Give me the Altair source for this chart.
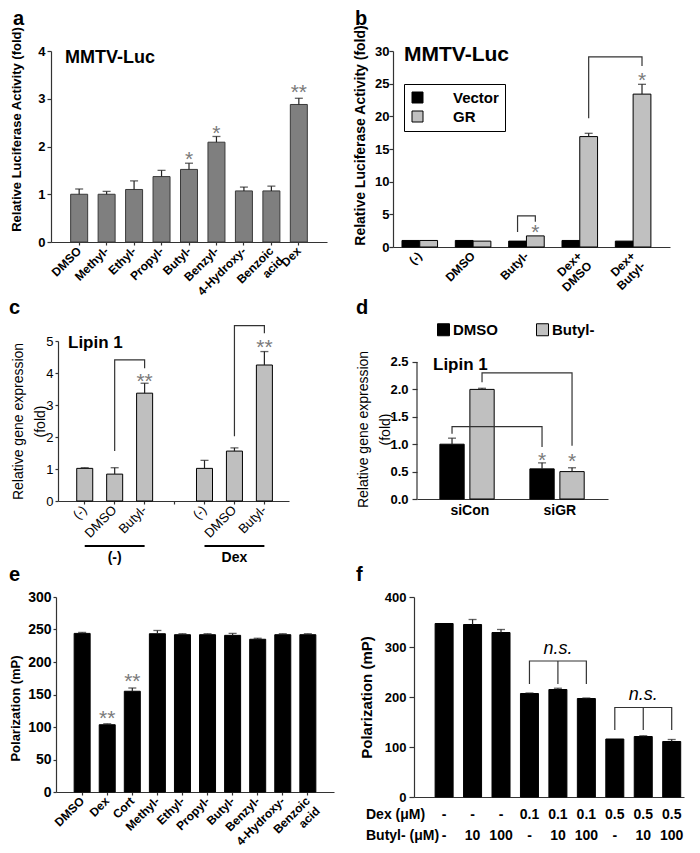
import altair as alt
import pandas as pd

FONT = "Liberation Sans"
INK = "#222222"

# ---------------- data ----------------
a_cats = ["DMSO", "Methyl-", "Ethyl-", "Propyl-", "Butyl-", "Benzyl-", "4-Hydroxy-", "Benzoic|acid", "Dex"]
a_vals = [1.00, 1.00, 1.10, 1.37, 1.52, 2.09, 1.07, 1.07, 2.88]
a_errs = [0.11, 0.06, 0.18, 0.13, 0.13, 0.12, 0.08, 0.10, 0.13]
a_star_cats = ["Butyl-", "Benzyl-", "Dex"]
a_star_text = ["*", "*", "**"]
a_star_y = [1.82, 2.37, 3.22]

b_groups = ["(-)", "DMSO", "Butyl-", "Dex+|DMSO", "Dex+|Butyl-"]
b_series = ["Vector", "GR"]
b_vector = [1.0, 1.0, 0.9, 1.0, 0.9]
b_vector_err = [0, 0, 0, 0, 0]
b_gr = [1.0, 0.9, 1.7, 16.9, 23.4]
b_gr_err = [0, 0, 0, 0.5, 1.5]
b_br_id = [1, 1, 1, 1, 2, 2, 2, 2]
b_br_group = ["Butyl-", "Butyl-", "Butyl-", "Butyl-", "Dex+|DMSO", "Dex+|DMSO", "Dex+|Butyl-", "Dex+|Butyl-"]
b_br_series = ["Vector", "Vector", "GR", "GR", "GR", "GR", "GR", "GR"]
b_br_y = [2.3, 4.77, 4.77, 3.85, 19.7, 29.1, 29.1, 27.7]
b_star_group = ["Butyl-", "Dex+|Butyl-"]
b_star_y = [2.9, 26.2]

c_ids = ["c1", "c2", "c3", "c4", "c5", "c6", "c7"]
c_labels = ["(-)", "DMSO", "Butyl-", "", "(-)", "DMSO", "Butyl-"]
c_bar_ids = ["c1", "c2", "c3", "c5", "c6", "c7"]
c_vals = [1.02, 0.84, 3.37, 1.02, 1.56, 4.25]
c_errs = [0.02, 0.20, 0.31, 0.25, 0.10, 0.42]
c_br_id = [1, 1, 1, 1, 2, 2, 2, 2]
c_br_x = ["c2", "c2", "c3", "c3", "c6", "c6", "c7", "c7"]
c_br_y = [1.56, 4.41, 4.41, 4.15, 2.02, 5.48, 5.48, 5.24]
c_star_x = ["c3", "c7"]
c_star_y = [3.89, 4.93]
c_group_from = ["c1", "c5"]
c_group_to = ["c3", "c7"]
c_group_mid = ["c2", "c6"]
c_group_text = ["(-)", "Dex"]

d_groups = ["siCon", "siGR"]
d_series = ["DMSO", "Butyl-"]
d_dmso = [1.00, 0.55]
d_dmso_err = [0.11, 0.11]
d_butyl = [2.00, 0.50]
d_butyl_err = [0.02, 0.07]
d_br_id = [1, 1, 1, 1, 2, 2, 2, 2]
d_br_group = ["siCon", "siCon", "siGR", "siGR", "siCon", "siCon", "siGR", "siGR"]
d_br_series = ["DMSO", "DMSO", "DMSO", "DMSO", "Butyl-", "Butyl-", "Butyl-", "Butyl-"]
d_br_y = [1.19, 1.32, 1.32, 0.95, 2.13, 2.30, 2.30, 0.97]
d_star_series = ["DMSO", "Butyl-"]
d_star_y = [0.79, 0.76]

e_cats = ["DMSO", "Dex", "Cort", "Methyl-", "Ethyl-", "Propyl-", "Butyl-", "Benzyl-", "4-Hydroxy-", "Benzoic|acid"]
e_vals = [244, 103.5, 155, 243.5, 242, 242, 241, 235, 242, 242]
e_errs = [1.5, 1.5, 5, 5, 1.5, 1.5, 3, 1.5, 1.5, 1.5]
e_star_cats = ["Dex", "Cort"]
e_star_y = [120, 177]

f_ids = ["f1", "f2", "f3", "f4", "f5", "f6", "f7", "f8", "f9"]
f_vals = [347, 345, 329, 207, 215, 197, 116, 121, 111]
f_errs = [0, 10, 6, 1, 2.5, 1, 0, 1.5, 4]
f_dex = ["-", "-", "-", "0.1", "0.1", "0.1", "0.5", "0.5", "0.5"]
f_butyl = ["-", "10", "100", "-", "10", "100", "-", "10", "100"]
f_br_id = [1, 1, 1, 1, 2, 2, 2, 2]
f_br_x = ["f4", "f4", "f6", "f6", "f7", "f7", "f9", "f9"]
f_br_y = [226, 272, 272, 226, 134, 179, 179, 134]
f_mid_x = ["f5", "f8"]
f_mid_lo = [226, 134]
f_mid_hi = [272, 179]
f_ns_y = [297, 204]


# ---------------- helpers ----------------
def label_text(text, x, y, size, weight="bold", align="left", baseline="top", style="normal"):
    return alt.Chart(pd.DataFrame({"t": [text]})).mark_text(
        align=align, baseline=baseline, fontSize=size, fontWeight=weight,
        fontStyle=style, font=FONT, color="black"
    ).encode(text="t:N", x=alt.value(x), y=alt.value(y))


def stars(df, x, y):
    return alt.Chart(df).mark_text(fontSize=21, color="#7a7a7a", font=FONT,
                                   baseline="middle", dy=5).encode(x=x, y=y, text="st:N")


def xlabels(df, x, field, h, size=12, weight="bold"):
    return alt.Chart(df).mark_text(angle=315, align="right", baseline="middle", lineBreak="|",
                                   fontSize=size, fontWeight=weight, font=FONT,
                                   color="black").encode(x=x, y=alt.value(h + 7), text=field + ":N")


def yaxis(title, tx, ty, size, weight="bold", values=None, fmt=None, lsize=13,
          lweight="bold", tick=4, pad=2, domain=True, lh=None):
    kw = dict(title=title, titleX=tx, titleY=ty, titleAngle=270, titleAlign="center",
              titleBaseline="top", titleFontSize=size, titleFontWeight=weight,
              labelFontSize=lsize, labelFontWeight=lweight, tickSize=tick,
              labelPadding=pad, domain=domain, grid=False)
    if values is not None:
        kw["values"] = values
    if fmt is not None:
        kw["format"] = fmt
    if lh is not None:
        kw["titleLineHeight"] = lh
    return alt.Axis(**kw)


def xaxis_plain(ticks=True):
    return alt.Axis(title=None, labels=False, ticks=ticks, tickSize=3, grid=False)


def make_xy(scale_x, axis_x, scale_y, axis_y):
    def X(field, bp=None):
        if bp is None:
            return alt.X(field, type="nominal", scale=scale_x, axis=axis_x)
        return alt.X(field, type="nominal", scale=scale_x, axis=axis_x, bandPosition=bp)

    def Y(field):
        return alt.Y(field, type="quantitative", scale=scale_y, axis=axis_y)
    return X, Y


# ---------------- panel a ----------------
a_df = pd.DataFrame({"cat": a_cats, "val": a_vals, "err": a_errs})
a_df["top"] = a_df["val"] + a_df["err"]
a_star = pd.DataFrame({"cat": a_star_cats, "st": a_star_text, "sy": a_star_y})
aX, aY = make_xy(alt.Scale(domain=a_cats, paddingInner=0.381, paddingOuter=0.716), xaxis_plain(),
                 alt.Scale(domain=[0, 4]),
                 yaxis("Relative Luciferase Activity (fold)", -41, 78, 13, values=[0, 1, 2, 3, 4],
                       tick=4, pad=2))
a_bar = alt.Chart(a_df).mark_bar(fill="#7f7f7f", stroke="#3a3a3a", strokeWidth=1).encode(
    x=aX("cat"), y=aY("val"))
a_err = alt.Chart(a_df).mark_rule(color=INK, strokeWidth=1.2).encode(x=aX("cat"), y=aY("val"), y2="top:Q")
a_cap = alt.Chart(a_df).mark_tick(color=INK, size=8, thickness=1.3).encode(x=aX("cat"), y=aY("top"))
a_st = stars(a_star, aX("cat"), aY("sy"))
pa = alt.layer(a_bar, a_err, a_cap, a_st, xlabels(a_df, aX("cat"), "cat", 191),
               label_text("MMTV-Luc", 14, 7, 18, baseline="middle"),
               label_text("a", -38, -42, 20)).properties(width=276, height=191)

# ---------------- panel b (one band slot per bar, one empty slot between groups) ----------------
b_code = {"Vector": "V", "GR": "G"}
b_slots = []
for i, g in enumerate(b_groups):
    b_slots += [g + "#V", g + "#G"]
    if i < len(b_groups) - 1:
        b_slots.append("gap%d" % i)
b_rows = []
for i, g in enumerate(b_groups):
    b_rows.append({"slot": g + "#V", "ser": "Vector", "val": b_vector[i], "err": b_vector_err[i]})
    b_rows.append({"slot": g + "#G", "ser": "GR", "val": b_gr[i], "err": b_gr_err[i]})
b_df = pd.DataFrame(b_rows)
b_df["top"] = b_df["val"] + b_df["err"]
b_errdf = b_df[b_df["err"] > 0]
b_lab = pd.DataFrame({"slot": [g + "#G" for g in b_groups], "grp": b_groups})
b_br = pd.DataFrame({"bid": b_br_id,
                     "slot": [g + "#" + b_code[s] for g, s in zip(b_br_group, b_br_series)],
                     "y": b_br_y, "o": list(range(len(b_br_id)))})
b_star = pd.DataFrame({"slot": [g + "#G" for g in b_star_group], "st": ["*", "*"], "sy": b_star_y})
bX, bY = make_xy(alt.Scale(domain=b_slots, paddingInner=0, paddingOuter=0.79, align=0.32),
                 xaxis_plain(ticks=False), alt.Scale(domain=[0, 30]),
                 yaxis("Relative Luciferase Activity (fold)", -40, 84, 14,
                       values=[0, 5, 10, 15, 20, 25, 30], tick=4, pad=0))
b_bar = alt.Chart(b_df).mark_bar(stroke="black", strokeWidth=1).encode(
    x=bX("slot"), y=bY("val"),
    color=alt.Color("ser:N", scale=alt.Scale(domain=b_series, range=["black", "#c0c0c0"]),
                    legend=alt.Legend(title=None, orient="none", legendX=11, legendY=33,
                                      direction="vertical", strokeColor="black", fillColor="white",
                                      padding=6, symbolType="square", symbolSize=121,
                                      symbolStrokeColor="black", symbolStrokeWidth=1,
                                      labelOffset=28, labelFontSize=15, labelFontWeight="bold",
                                      rowPadding=3, labelFont=FONT)))
b_err = alt.Chart(b_errdf).mark_rule(color=INK, strokeWidth=1.2).encode(
    x=bX("slot"), y=bY("val"), y2="top:Q")
b_cap = alt.Chart(b_errdf).mark_tick(color=INK, size=8, thickness=1.3).encode(
    x=bX("slot"), y=bY("top"))
b_brk = alt.Chart(b_br).mark_line(color="#333", strokeWidth=1.2).encode(
    x=bX("slot"), y=bY("y"), detail="bid:N", order="o:Q")
b_st = stars(b_star, bX("slot"), bY("sy"))
pb = alt.layer(b_bar, b_err, b_cap, b_brk, b_st, xlabels(b_lab, bX("slot", bp=0), "grp", 196),
               label_text("MMTV-Luc", 11, 4, 21, baseline="middle"),
               label_text("b", -38, -42, 20)).properties(width=277, height=196)

# ---------------- panel c ----------------
c_df = pd.DataFrame({"cat": c_bar_ids, "val": c_vals, "err": c_errs})
c_df["top"] = c_df["val"] + c_df["err"]
c_lab = pd.DataFrame({"cat": c_ids, "lab": c_labels})
c_lab = c_lab[c_lab["lab"] != ""]
c_br = pd.DataFrame({"bid": c_br_id, "cat": c_br_x, "y": c_br_y, "o": list(range(len(c_br_id)))})
c_star = pd.DataFrame({"cat": c_star_x, "st": ["**", "**"], "sy": c_star_y})
c_grp = pd.DataFrame({"a": c_group_from, "b": c_group_to, "m": c_group_mid, "t": c_group_text})
cX, cY = make_xy(alt.Scale(domain=c_ids, paddingInner=0.465, paddingOuter=0.59, align=0.53),
                 xaxis_plain(), alt.Scale(domain=[0, 5]),
                 yaxis(["Relative gene expression", "(fold)"], -47, 80, 14, weight="normal",
                       values=[0, 1, 2, 3, 4, 5], lsize=13, lweight="normal", tick=3, pad=2, lh=22))
c_bar = alt.Chart(c_df).mark_bar(fill="#bfbfbf", stroke="black", strokeWidth=1).encode(
    x=cX("cat"), y=cY("val"))
c_err = alt.Chart(c_df).mark_rule(color=INK, strokeWidth=1.2).encode(x=cX("cat"), y=cY("val"), y2="top:Q")
c_cap = alt.Chart(c_df).mark_tick(color=INK, size=8, thickness=1.3).encode(x=cX("cat"), y=cY("top"))
c_brk = alt.Chart(c_br).mark_line(color="#333", strokeWidth=1.2).encode(
    x=cX("cat"), y=cY("y"), detail="bid:N", order="o:Q")
c_st = stars(c_star, cX("cat"), cY("sy"))
c_line = alt.Chart(c_grp).mark_rule(color="black", strokeWidth=2).encode(
    x=cX("a"), x2="b:N", y=alt.value(205))
c_gtxt = alt.Chart(c_grp).mark_text(fontSize=14, fontWeight="bold", font=FONT, baseline="middle",
                                    color="black").encode(x=cX("m"), y=alt.value(217), text="t:N")
pc = alt.layer(c_bar, c_err, c_cap, c_brk, c_st, c_line, c_gtxt,
               xlabels(c_lab, cX("cat"), "lab", 160, size=13, weight="normal"),
               label_text("Lipin 1", 10, 2, 17, baseline="middle"),
               label_text("c", -49, -43, 20)).properties(width=231, height=160)

# ---------------- panel d (one band slot per bar, one empty slot between groups) ----------------
d_code = {"DMSO": "D", "Butyl-": "B"}
d_slots = [d_groups[0] + "#D", d_groups[0] + "#B", "gap", d_groups[1] + "#D", d_groups[1] + "#B"]
d_rows = []
for i, g in enumerate(d_groups):
    d_rows.append({"slot": g + "#D", "ser": "DMSO", "val": d_dmso[i], "err": d_dmso_err[i]})
    d_rows.append({"slot": g + "#B", "ser": "Butyl-", "val": d_butyl[i], "err": d_butyl_err[i]})
d_df = pd.DataFrame(d_rows)
d_df["top"] = d_df["val"] + d_df["err"]
d_lab = pd.DataFrame({"slot": [g + "#B" for g in d_groups], "grp": d_groups})
d_br = pd.DataFrame({"bid": d_br_id,
                     "slot": [g + "#" + d_code[s] for g, s in zip(d_br_group, d_br_series)],
                     "y": d_br_y, "o": list(range(len(d_br_id)))})
d_star = pd.DataFrame({"slot": ["siGR#" + d_code[s] for s in d_star_series], "st": ["*", "*"],
                       "sy": d_star_y})
d_axisline = pd.DataFrame({"y0": [0.0], "y1": [2.5]})
dX, dY = make_xy(alt.Scale(domain=d_slots, paddingInner=0.19, paddingOuter=0.778, align=0.49),
                 xaxis_plain(ticks=False),
                 alt.Scale(domain=[0, 2.883]),
                 yaxis(["Relative gene expression", "(fold)"], -61, 88, 14, weight="normal",
                       values=[0, 0.5, 1.0, 1.5, 2.0, 2.5], fmt=".1f", tick=5, pad=4,
                       domain=False, lh=22))
d_bar = alt.Chart(d_df).mark_bar(stroke="black", strokeWidth=1).encode(
    x=dX("slot"), y=dY("val"),
    color=alt.Color("ser:N", scale=alt.Scale(domain=d_series, range=["black", "#c0c0c0"]),
                    legend=alt.Legend(title=None, orient="none", legendX=19, legendY=-19,
                                      direction="horizontal", padding=0, symbolType="square",
                                      symbolSize=144, symbolStrokeColor="black",
                                      symbolStrokeWidth=1, labelOffset=2, columnPadding=36,
                                      labelFontSize=15, labelFontWeight="bold", labelFont=FONT)))
d_yline = alt.Chart(d_axisline).mark_rule(color="#333", strokeWidth=1.2).encode(
    x=alt.value(0), y=dY("y0"), y2="y1:Q")
d_err = alt.Chart(d_df).mark_rule(color=INK, strokeWidth=1.2).encode(
    x=dX("slot"), y=dY("val"), y2="top:Q")
d_cap = alt.Chart(d_df).mark_tick(color=INK, size=8, thickness=1.3).encode(
    x=dX("slot"), y=dY("top"))
d_brk = alt.Chart(d_br).mark_line(color="#333", strokeWidth=1.2).encode(
    x=dX("slot"), y=dY("y"), detail="bid:N", order="o:Q")
d_st = stars(d_star, dX("slot"), dY("sy"))
d_xl = alt.Chart(d_lab).mark_text(fontSize=14, fontWeight="bold", font=FONT, color="black",
                                  baseline="middle").encode(x=dX("slot", bp=0), y=alt.value(170),
                                                            text="grp:N")
pdd = alt.layer(d_bar, d_yline, d_err, d_cap, d_brk, d_st, d_xl,
                label_text("Lipin 1", 16, 24, 17, baseline="middle"),
                label_text("d", -61, -43, 20)).properties(width=191, height=158)

# ---------------- panel e ----------------
e_df = pd.DataFrame({"cat": e_cats, "val": e_vals, "err": e_errs})
e_df["top"] = e_df["val"] + e_df["err"]
e_star = pd.DataFrame({"cat": e_star_cats, "st": ["**", "**"], "sy": e_star_y})
eX, eY = make_xy(alt.Scale(domain=e_cats, paddingInner=0.362, paddingOuter=0.724), xaxis_plain(),
                 alt.Scale(domain=[0, 300]),
                 yaxis("Polarization (mP)", -47, 111, 13, values=[0, 50, 100, 150, 200, 250, 300],
                       lsize=14, tick=3, pad=2))
e_bar = alt.Chart(e_df).mark_bar(fill="black", stroke="black", strokeWidth=1).encode(
    x=eX("cat"), y=eY("val"))
e_err = alt.Chart(e_df).mark_rule(color=INK, strokeWidth=1.2).encode(x=eX("cat"), y=eY("val"), y2="top:Q")
e_cap = alt.Chart(e_df).mark_tick(color=INK, size=8, thickness=1.3).encode(x=eX("cat"), y=eY("top"))
e_st = stars(e_star, eX("cat"), eY("sy"))
pe = alt.layer(e_bar, e_err, e_cap, e_st, xlabels(e_df, eX("cat"), "cat", 195),
               label_text("e", -47, -32, 20)).properties(width=278, height=195)

# ---------------- panel f ----------------
f_df = pd.DataFrame({"cat": f_ids, "val": f_vals, "err": f_errs, "dex": f_dex, "but": f_butyl})
f_df["top"] = f_df["val"] + f_df["err"]
f_errdf = f_df[f_df["err"] > 0]
f_br = pd.DataFrame({"bid": f_br_id, "cat": f_br_x, "y": f_br_y, "o": list(range(len(f_br_id)))})
f_mid = pd.DataFrame({"cat": f_mid_x, "lo": f_mid_lo, "hi": f_mid_hi, "ny": f_ns_y, "t": ["n.s.", "n.s."]})
fX, fY = make_xy(alt.Scale(domain=f_ids, paddingInner=0.367, paddingOuter=0.429, align=0.865),
                 xaxis_plain(ticks=False), alt.Scale(domain=[0, 400]),
                 yaxis("Polarization (mP)", -55, 100, 15, values=[0, 100, 200, 300, 400],
                       lsize=13, tick=5, pad=3))
f_bar = alt.Chart(f_df).mark_bar(fill="black", stroke="black", strokeWidth=1).encode(
    x=fX("cat"), y=fY("val"))
f_err = alt.Chart(f_errdf).mark_rule(color=INK, strokeWidth=1.2).encode(x=fX("cat"), y=fY("val"), y2="top:Q")
f_cap = alt.Chart(f_errdf).mark_tick(color=INK, size=8, thickness=1.3).encode(x=fX("cat"), y=fY("top"))
f_brk = alt.Chart(f_br).mark_line(color="#333", strokeWidth=1.2).encode(
    x=fX("cat"), y=fY("y"), detail="bid:N", order="o:Q")
f_midl = alt.Chart(f_mid).mark_rule(color="#333", strokeWidth=1.2).encode(
    x=fX("cat"), y=fY("lo"), y2="hi:Q")
f_ns = alt.Chart(f_mid).mark_text(fontSize=18, fontStyle="italic", font=FONT, color="black",
                                  baseline="middle").encode(x=fX("cat"), y=fY("ny"), text="t:N")
f_row1 = alt.Chart(f_df).mark_text(fontSize=14, fontWeight="bold", font=FONT, color="black",
                                   baseline="middle").encode(x=fX("cat"), y=alt.value(218), text="dex:N")
f_row2 = alt.Chart(f_df).mark_text(fontSize=14, fontWeight="bold", font=FONT, color="black",
                                   baseline="middle").encode(x=fX("cat"), y=alt.value(239), text="but:N")
pf = alt.layer(f_bar, f_err, f_cap, f_brk, f_midl, f_ns, f_row1, f_row2,
               label_text("Dex (μM)", -48, 218, 14, baseline="middle"),
               label_text("Butyl- (μM)", -48, 239, 14, baseline="middle"),
               label_text("f", -58, -32, 20)).properties(width=270, height=200)


# ---------------- layout ----------------
def spacer():
    return alt.Chart(pd.DataFrame({"v": [0]})).mark_point(opacity=0, size=1).encode(
        x=alt.value(0.5), y=alt.value(0.5)).properties(width=1, height=1)


row1 = alt.hconcat(spacer(), alt.hconcat(pa, pb, spacing=25).resolve_scale(color="independent"), spacing=0)
row2 = alt.hconcat(spacer(), alt.hconcat(pc, pdd, spacing=67).resolve_scale(color="independent"), spacing=0)
row3 = alt.hconcat(spacer(), alt.hconcat(pe, pf, spacing=22), spacing=0)

chart = alt.vconcat(row1, row2, row3, spacing=0).resolve_scale(
    color="independent").resolve_legend(color="independent").properties(
    padding={"left": 0, "top": 1, "right": 5, "bottom": 5}
).configure_view(stroke=None).configure_axis(
    labelFont=FONT, titleFont=FONT, labelColor="black", titleColor="black",
    domainColor="#333", tickColor="#333", domainWidth=1.2, tickWidth=1.2
).configure_legend(labelFont=FONT)

chart.save("out.html", embed_options={"renderer": "svg", "actions": False})
